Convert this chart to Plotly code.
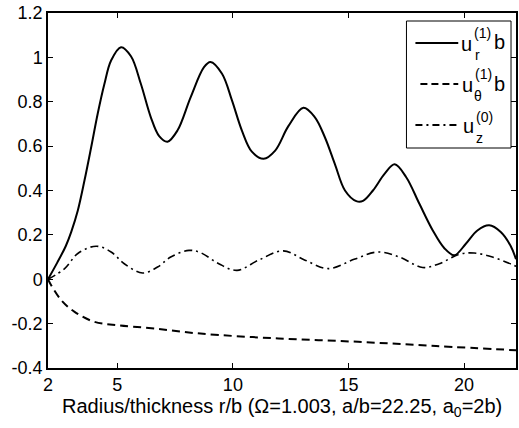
import plotly.graph_objects as go

# Data
r_ur = [2.0, 2.4, 2.77, 3.01, 3.29, 3.58, 3.87, 4.15, 4.44, 4.73, 5.16, 5.59, 6.02, 6.45, 6.81, 7.17,
        7.60, 8.17, 8.75, 9.03, 9.53, 9.96, 10.39, 10.82, 11.33, 11.83, 12.40, 13.05, 13.55, 13.98,
        14.41, 14.85, 15.34, 15.63, 16.06, 16.57, 17.0, 17.50, 18.07, 18.65, 19.15, 19.58, 20.08,
        20.58, 21.09, 21.59, 22.02, 22.25]
ur = [0.0, 0.075, 0.15, 0.215, 0.31, 0.446, 0.596, 0.746, 0.88, 0.986, 1.046, 1.005, 0.88, 0.73, 0.645, 0.62,
      0.67, 0.82, 0.956, 0.979, 0.926, 0.806, 0.67, 0.575, 0.543, 0.58, 0.69, 0.773, 0.73, 0.64,
      0.52, 0.40, 0.352, 0.353, 0.40, 0.476, 0.518, 0.46, 0.34, 0.22, 0.14, 0.108, 0.16,
      0.22, 0.243, 0.213, 0.15, 0.09]

r_ut = [2.0, 2.1, 2.58, 3.15, 4.01, 5.01, 6.59, 8.60, 11.97, 15.42, 18.79, 22.25]
ut = [0.0, -0.02, -0.095, -0.147, -0.192, -0.207, -0.222, -0.245, -0.267, -0.282, -0.301, -0.32]

r_uz = [2.0, 2.72, 3.29, 4.08, 4.73, 5.30, 6.09, 6.74, 7.31, 8.10, 8.6, 9.39, 10.18, 11.11, 12.18,
        13.12, 14.13, 15.28, 16.28, 17.21, 18.21, 18.93, 19.80, 20.44, 21.23, 22.16, 22.25]
uz = [0.0, 0.048, 0.116, 0.149, 0.123, 0.07, 0.028, 0.055, 0.10, 0.13, 0.12, 0.07, 0.04, 0.086, 0.128,
      0.086, 0.048, 0.091, 0.123, 0.10, 0.053, 0.07, 0.113, 0.118, 0.10, 0.063, 0.058]

x_ticks = [2, 5, 10, 15, 20]
y_ticks = [-0.4, -0.2, 0, 0.2, 0.4, 0.6, 0.8, 1, 1.2]
y_tick_text = ["-0.4", "-0.2", "0", "0.2", "0.4", "0.6", "0.8", "1", "1.2"]

FONT = "Arial, Liberation Sans, sans-serif"

fig = go.Figure()
fig.add_trace(go.Scatter(x=r_ur, y=ur, mode="lines",
                         line=dict(color="black", width=2, shape="spline", smoothing=1.0)))
fig.add_trace(go.Scatter(x=r_ut, y=ut, mode="lines",
                         line=dict(color="black", width=2, dash="8px,5px", shape="spline", smoothing=1.0)))
fig.add_trace(go.Scatter(x=r_uz, y=uz, mode="lines",
                         line=dict(color="black", width=1.6, dash="8px,4px,2px,4px", shape="spline", smoothing=1.0)))

W, H = 519, 428
L, R, T, B = 48, 1, 13, 60
pw, ph = W - L - R, H - T - B


def px(x):
    return (x - L) / pw


def py(y):
    return (H - B - y) / ph


shapes = []
annotations = []
# legend box
shapes.append(dict(type="rect", xref="paper", yref="paper", x0=px(408), x1=px(513), y0=py(148), y1=py(21),
                   line=dict(color="black", width=1), fillcolor="white", layer="above"))
legend_dash = ["solid", "7px,4px", "7px,4px,2px,4px"]
legend_y = [43, 84, 125]
legend_x0 = [417, 422, 417]
for dsh, yy, x0 in zip(legend_dash, legend_y, legend_x0):
    shapes.append(dict(type="line", xref="paper", yref="paper", x0=px(x0), x1=px(460), y0=py(yy), y1=py(yy),
                       line=dict(color="black", width=2, dash=dsh), layer="above"))

big = 20
small = 14
texts = [
    ("u", 468, 44, big), ("(1)", 484, 33, small), ("r", 479, 55, small), ("b", 501, 42, big),
    ("u", 469, 85, big), ("(1)", 485, 74, small), ("θ", 480, 96, small), ("b", 501, 84, big),
    ("u", 470, 126, big), ("(0)", 486, 117, small), ("z", 481, 138, small),
]
for t, xx, yy, sz in texts:
    annotations.append(dict(text=t, xref="paper", yref="paper", x=px(xx), y=py(yy), xanchor="center",
                            yanchor="middle", showarrow=False, font=dict(family=FONT, size=sz, color="black")))

annotations.append(dict(text="Radius/thickness r/b (Ω=1.003, a/b=22.25, a<sub>0</sub>=2b)",
                        xref="paper", yref="paper", x=px(283), y=py(407), xanchor="center", yanchor="middle",
                        showarrow=False, font=dict(family=FONT, size=20, color="black")))

fig.update_layout(
    width=W, height=H, margin=dict(l=L, r=R, t=T, b=B, pad=0),
    plot_bgcolor="white", paper_bgcolor="white", showlegend=False,
    font=dict(family=FONT, size=18, color="black"),
    shapes=shapes, annotations=annotations,
)
fig.update_xaxes(range=[2, 22.25], tickvals=x_ticks, ticktext=[str(v) for v in x_ticks],
                 showgrid=False, zeroline=False, showline=True, linecolor="black", linewidth=1.5,
                 mirror="ticks", ticks="inside", ticklen=5, tickwidth=1, tickcolor="black",
                 tickfont=dict(family=FONT, size=18))
fig.update_yaxes(range=[-0.4, 1.2], tickvals=y_ticks, ticktext=y_tick_text,
                 showgrid=False, zeroline=False, showline=True, linecolor="black", linewidth=1.5,
                 mirror="ticks", ticks="inside", ticklen=5, tickwidth=1, tickcolor="black",
                 tickfont=dict(family=FONT, size=18))

fig.write_html("out.html", config={"displayModeBar": False},
               post_script="document.body.style.margin='0px';")
